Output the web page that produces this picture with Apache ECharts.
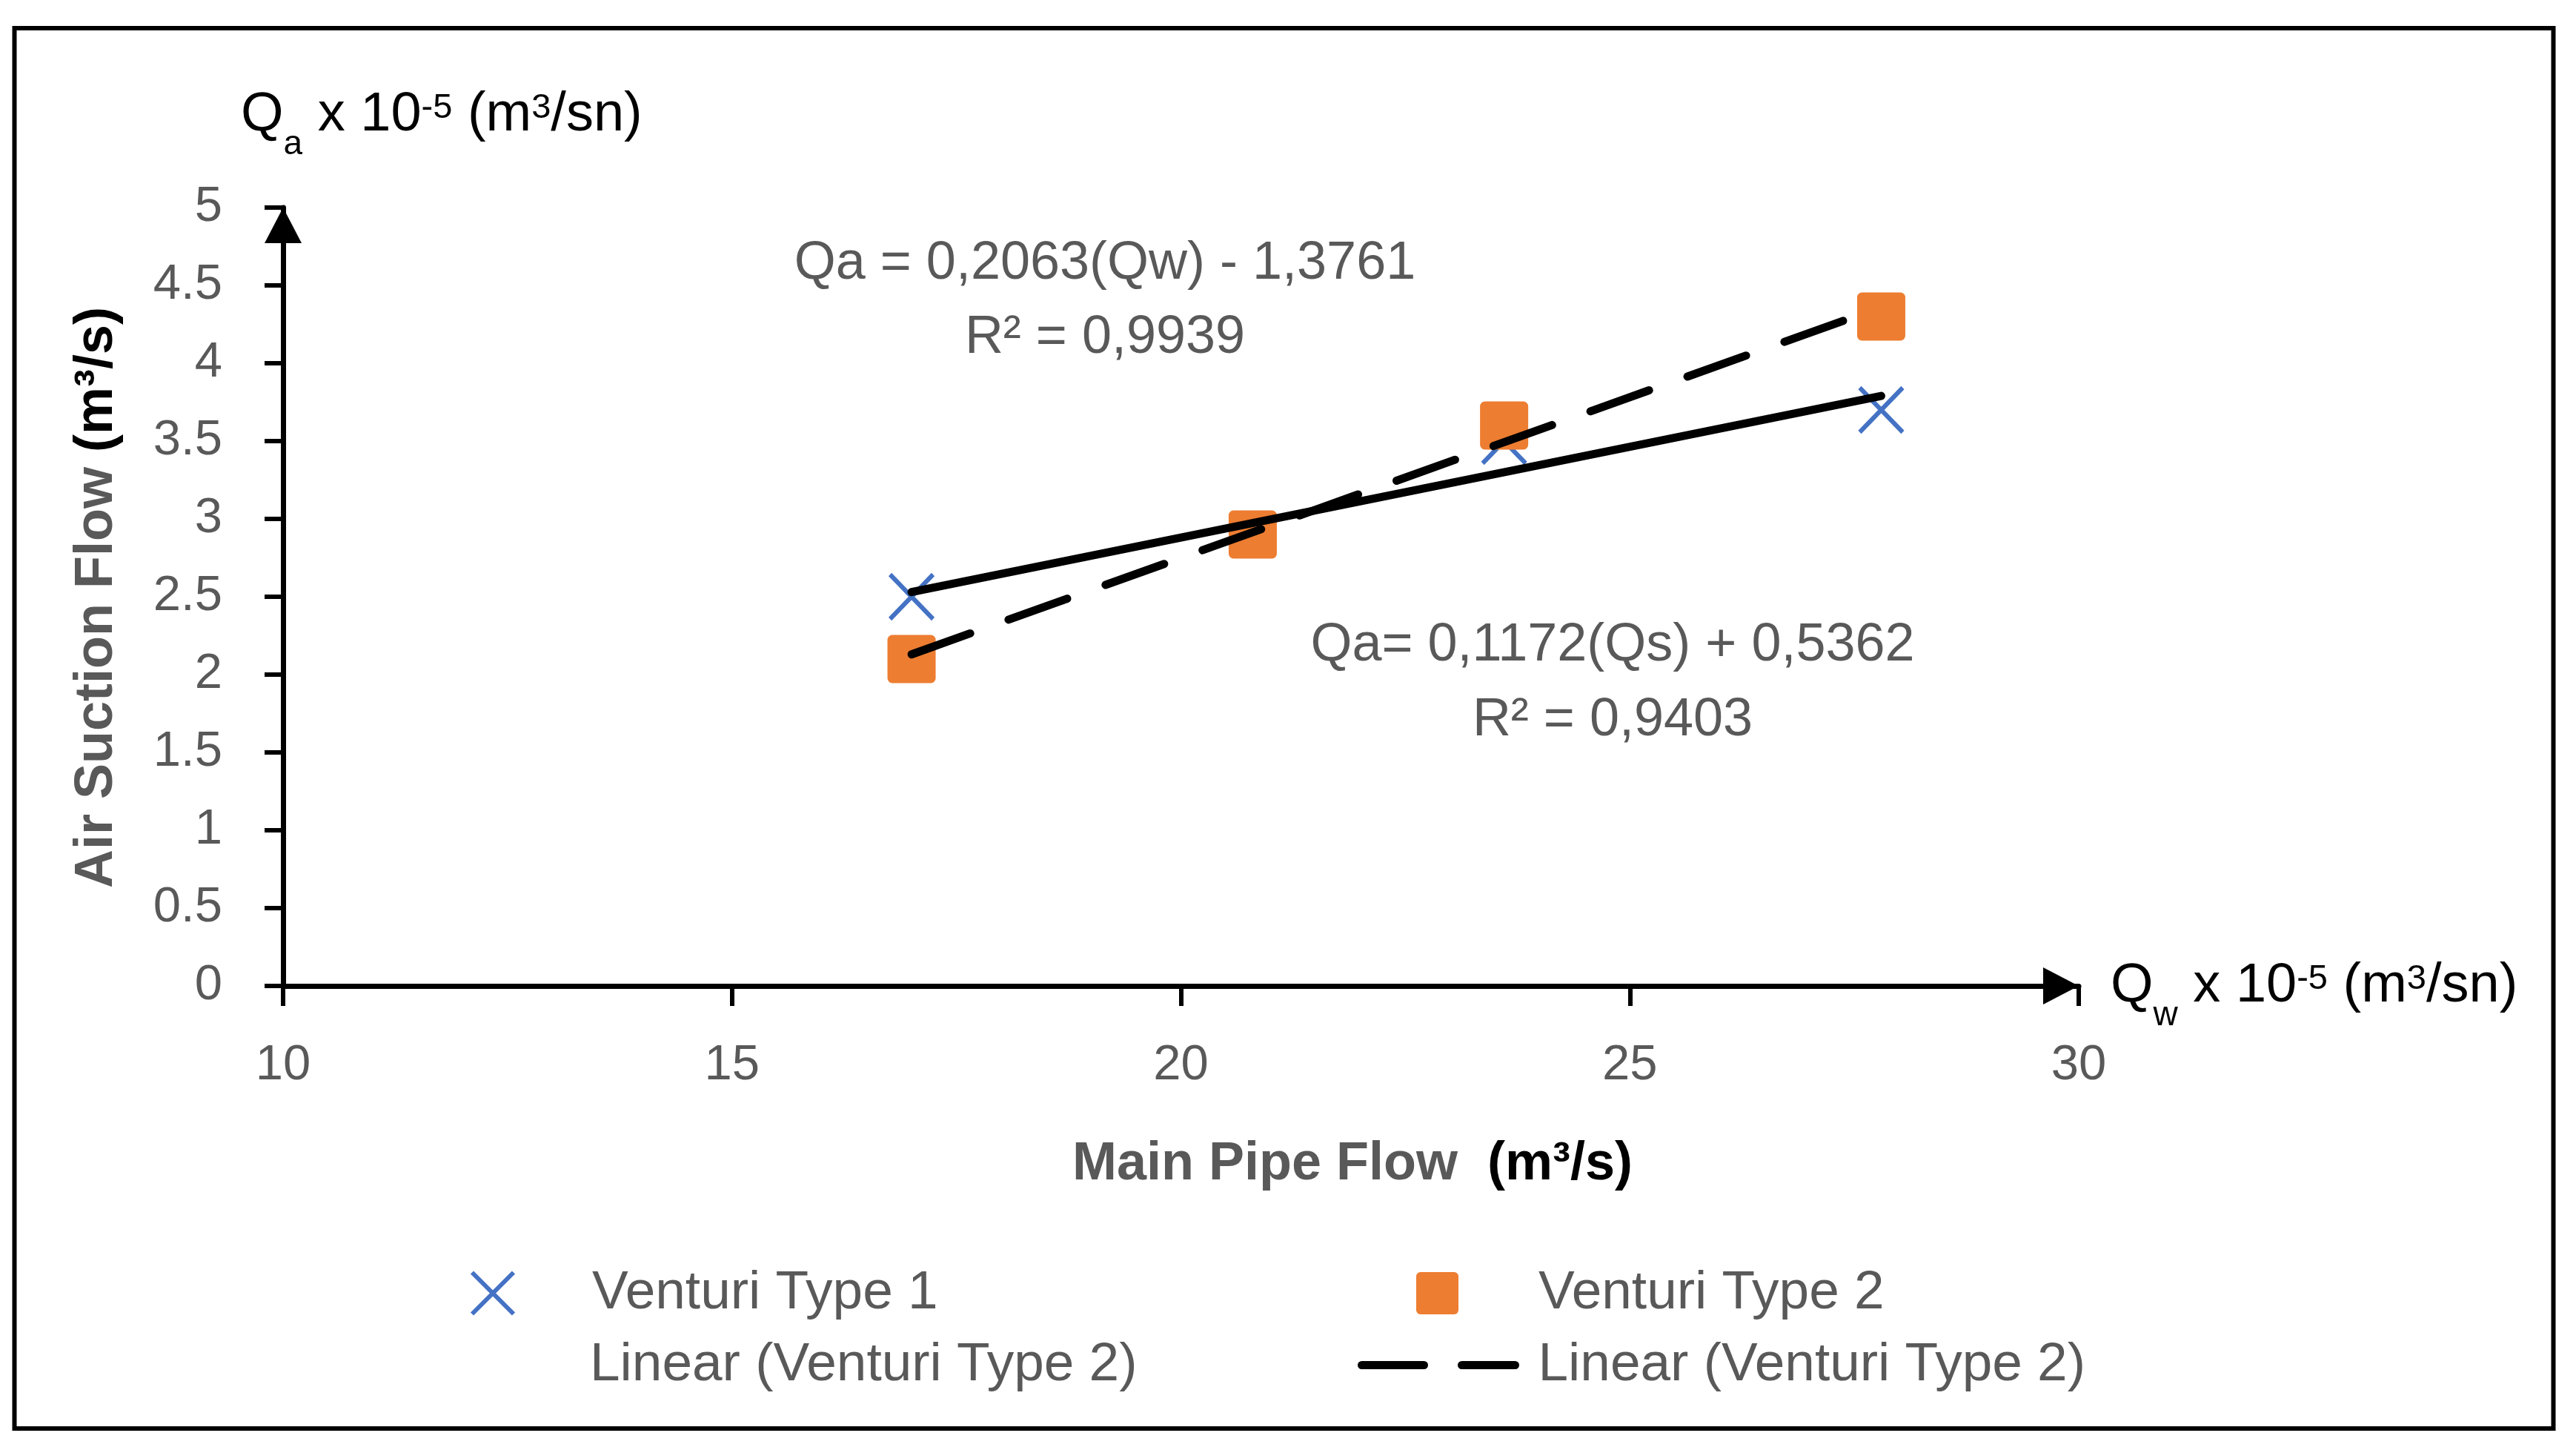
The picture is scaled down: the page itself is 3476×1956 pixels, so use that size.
<!DOCTYPE html>
<html>
<head>
<meta charset="utf-8">
<script src="https://cdn.jsdelivr.net/npm/echarts@6/dist/echarts.min.js"></script>
<style>
html,body{margin:0;padding:0;background:#fff;}
#chart{width:3476px;height:1956px;}
</style>
</head>
<body>
<div id="chart"></div>
<script>
// ---- data ----
const mainPipeFlow = [17, 20.8, 23.6, 27.8];
const venturiType1 = [2.5, 2.9, 3.5, 3.7];
const venturiType2 = [2.1, 2.9, 3.6, 4.3];
const trendX = [17, 27.8];
const trendType1 = [2.53, 3.79];   // Qa = 0,1172(Qs) + 0,5362
const trendType2 = [2.13, 4.36];   // Qa = 0,2063(Qw) - 1,3761
const xAxisRange = [10, 30, 5];
const yAxisRange = [0, 5, 0.5];
const seriesNames = ['Venturi Type 1', 'Venturi Type 2', 'Linear (Venturi Type 2)', 'Linear (Venturi Type 2) '];
const equationType2 = ['Qa = 0,2063(Qw) - 1,3761', 'R² = 0,9939'];
const equationType1 = ['Qa= 0,1172(Qs) + 0,5362', 'R² = 0,9403'];
const yTitle = ['Air Suction Flow ', '(m³/s)'];
const xTitle = ['Main Pipe Flow  ', '(m³/s)'];

// ---- styles ----
const FONT = 'Liberation Sans';
const GRAY = '#595959';
const BLUE = '#4472C4';
const ORANGE = '#ED7D31';
const crossPath = 'path://M0,0L10,10M10,0L0,10';
const squarePath = 'path://M1,0H9A1,1 0 0 1 10,1V9A1,1 0 0 1 9,10H1A1,1 0 0 1 0,9V1A1,1 0 0 1 1,0Z';

const zip = (xs, ys) => xs.map((x, i) => [x, ys[i]]);

const unitRich = {
  n: {fontSize: 74, fontFamily: FONT, fill: '#000', lineHeight: 86, verticalAlign: 'top'},
  sub: {fontSize: 46, fontFamily: FONT, fill: '#000', lineHeight: 46, padding: [53, 0, 0, 0], verticalAlign: 'top'},
  sup: {fontSize: 47, fontFamily: FONT, fill: '#000', lineHeight: 47, padding: [4, 0, 0, 0], verticalAlign: 'top'}
};
const titleRich = {
  g: {fontSize: 72, fontFamily: FONT, fontWeight: 'bold', fill: GRAY},
  b: {fontSize: 72, fontFamily: FONT, fontWeight: 'bold', fill: '#000'}
};
const legendText = (pad) => ({color: GRAY, fontSize: 73, fontFamily: FONT, lineHeight: 72, padding: [0, 0, 0, pad]});

const chart = echarts.init(document.getElementById('chart'), null, {renderer: 'canvas'});
chart.setOption({
  animation: false,
  backgroundColor: '#fff',
  grid: {left: 382, right: 671, top: 280, bottom: 626, outerBoundsMode: 'none'},
  xAxis: {
    type: 'value', min: xAxisRange[0], max: xAxisRange[1], interval: xAxisRange[2],
    axisLine: {show: true, lineStyle: {color: '#000', width: 7}, symbol: ['none', 'triangle'], symbolSize: [50, 48], symbolOffset: [0, -24]},
    axisTick: {show: true, length: 27, lineStyle: {color: '#000', width: 6}},
    axisLabel: {color: GRAY, fontSize: 67, fontFamily: FONT, margin: 74, lineHeight: 67},
    splitLine: {show: false}
  },
  yAxis: {
    type: 'value', min: yAxisRange[0], max: yAxisRange[1], interval: yAxisRange[2],
    axisLine: {show: true, lineStyle: {color: '#000', width: 7}, symbol: ['none', 'triangle'], symbolSize: [50, 48], symbolOffset: [0, -24]},
    axisTick: {show: true, length: 25, lineStyle: {color: '#000', width: 6}},
    axisLabel: {color: GRAY, fontSize: 67, fontFamily: FONT, margin: 82},
    splitLine: {show: false}
  },
  legend: [
    {data: [{name: seriesNames[0], itemStyle: {color: 'rgba(0,0,0,0)', borderColor: BLUE, borderWidth: 6, opacity: 1}}],
     left: 634, top: 1708, padding: 0, itemWidth: 56, itemHeight: 58, selectedMode: false, textStyle: legendText(101)},
    {data: [{name: seriesNames[1], itemStyle: {color: ORANGE, borderWidth: 0, opacity: 1}}],
     left: 1911, top: 1708, padding: 0, itemWidth: 57, itemHeight: 57, selectedMode: false, textStyle: legendText(103)},
    {data: [{name: seriesNames[2], icon: 'rect', itemStyle: {color: 'rgba(0,0,0,0)', borderWidth: 0}}],
     left: 634, top: 1805, padding: 0, itemWidth: 56, itemHeight: 14, selectedMode: false, textStyle: legendText(101)},
    {data: [{name: seriesNames[3], itemStyle: {color: 'rgba(0,0,0,0)', borderWidth: 0, opacity: 0},
             lineStyle: {color: '#000', width: 11, type: [84, 51], cap: 'round'}}],
     left: 1832, top: 1805, padding: 0, itemWidth: 207, itemHeight: 14, selectedMode: false, textStyle: legendText(26)}
  ],
  series: [
    {name: seriesNames[0], type: 'scatter', data: zip(mainPipeFlow, venturiType1), symbol: crossPath, symbolSize: [58, 60],
     itemStyle: {color: 'rgba(0,0,0,0)', borderColor: BLUE, borderWidth: 6, opacity: 1}, z: 2, silent: true},
    {name: seriesNames[1], type: 'scatter', data: zip(mainPipeFlow, venturiType2), symbol: squarePath, symbolSize: 65,
     itemStyle: {color: ORANGE, opacity: 1}, z: 3, silent: true},
    {name: seriesNames[2], type: 'line', data: zip(trendX, trendType1), symbol: 'none', itemStyle: {color: '#000'},
     lineStyle: {color: '#000', width: 11, cap: 'round'}, z: 4, silent: true},
    {name: seriesNames[3], type: 'line', data: zip(trendX, trendType2), symbol: 'none', itemStyle: {color: '#000'},
     lineStyle: {color: '#000', width: 11, type: [84, 55], cap: 'round'}, z: 4, silent: true}
  ],
  graphic: [
    {type: 'rect', shape: {x: 19.5, y: 38, width: 3426, height: 1889}, style: {fill: 'none', stroke: '#000', lineWidth: 6}, silent: true},
    {type: 'text', x: 325, y: 119, style: {text: '{n|Q}{sub|a}{n| x 10}{sup|-5}{n| (m}{sup|3}{n|/sn)}', rich: unitRich, align: 'left', verticalAlign: 'top'}},
    {type: 'text', x: 2848, y: 1294, style: {text: '{n|Q}{sub|w}{n| x 10}{sup|-5}{n| (m}{sup|3}{n|/sn)}', rich: unitRich, align: 'left', verticalAlign: 'top'}},
    {type: 'text', x: 131, y: 806, rotation: Math.PI / 2, style: {text: '{g|' + yTitle[0] + '}{b|' + yTitle[1] + '}', rich: titleRich, align: 'center', verticalAlign: 'middle'}},
    {type: 'text', x: 1825, y: 1571, style: {text: '{g|' + xTitle[0] + '}{b|' + xTitle[1] + '}', rich: titleRich, align: 'center', verticalAlign: 'middle'}},
    {type: 'text', x: 1491, y: 406, style: {text: equationType2.join('\n'), fontSize: 72, fontFamily: FONT, lineHeight: 100, fill: GRAY, align: 'center', verticalAlign: 'middle'}},
    {type: 'text', x: 2176, y: 922, style: {text: equationType1.join('\n'), fontSize: 72, fontFamily: FONT, lineHeight: 101, fill: GRAY, align: 'center', verticalAlign: 'middle'}}
  ]
});
</script>
</body>
</html>
